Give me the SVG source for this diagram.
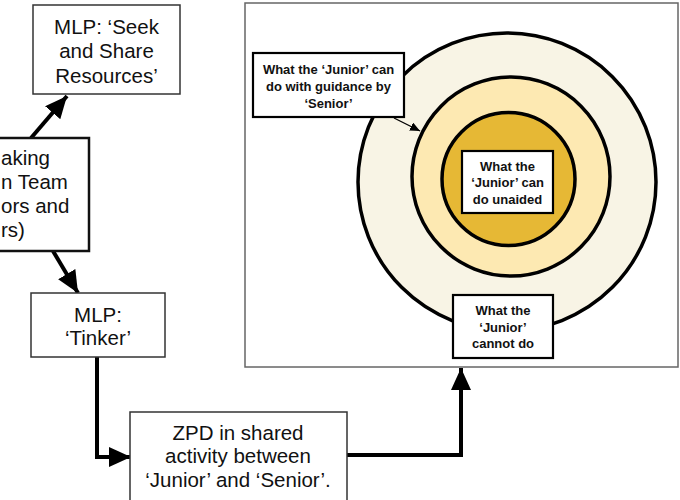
<svg xmlns="http://www.w3.org/2000/svg" width="680" height="500" viewBox="0 0 680 500">
<defs>
<style>
.box{fill:#fff;stroke:#333;stroke-width:1.5}
.lbl{fill:#fff;stroke:#000;stroke-width:2.2}
.t{font-family:"Liberation Sans",Arial,sans-serif;font-size:20.5px;fill:#111;text-anchor:middle}
.b{font-family:"Liberation Sans",Arial,sans-serif;font-size:13px;font-weight:bold;fill:#111;text-anchor:middle}
.c{fill:none;stroke:#000;stroke-width:4;stroke-linejoin:miter}
.ring{stroke:#000;stroke-width:3.5}
</style>
<marker id="ah" markerUnits="userSpaceOnUse" markerWidth="24" markerHeight="22" refX="22" refY="10" orient="auto">
<path d="M0,0 L22,10 L0,20 Z" fill="#000"/>
</marker>
<marker id="sh" markerUnits="userSpaceOnUse" markerWidth="12" markerHeight="10" refX="10" refY="4.5" orient="auto">
<path d="M0,0 L10,4.5 L0,9 Z" fill="#000"/>
</marker>
</defs>

<g id="zpd-panel">
<rect x="245" y="3" width="433" height="364" fill="#fff" stroke="#666" stroke-width="1.5"/>
<ellipse class="ring" cx="507" cy="182" rx="149" ry="149" fill="#f8f4e5"/>
<ellipse class="ring" cx="511" cy="176.5" rx="99" ry="99.5" fill="#fde9b2"/>
<ellipse class="ring" cx="508.5" cy="179" rx="66.5" ry="66.5" fill="#e6b835"/>
</g>

<g id="connectors">
<line class="c" x1="31" y1="138" x2="67" y2="96" marker-end="url(#ah)"/>
<line class="c" x1="53" y1="251" x2="78" y2="293" marker-end="url(#ah)"/>
<polyline class="c" points="97,357 97,457 131,457" marker-end="url(#ah)"/>
<polyline class="c" points="347,455 461,455 461,368" marker-end="url(#ah)"/>
<line x1="394" y1="118" x2="420" y2="131" stroke="#000" stroke-width="1.3" marker-end="url(#sh)"/>
</g>

<g id="mlp-seek">
<rect class="box" x="33" y="5" width="147" height="89"/>
<text class="t" x="106.5" y="34">MLP: ‘Seek</text>
<text class="t" x="106.5" y="58">and Share</text>
<text class="t" x="106.5" y="83">Resources’</text>
</g>

<g id="decision">
<rect x="-40" y="138" width="129" height="113" fill="#fff" stroke="#111" stroke-width="2.5"/>
<text class="t" x="1" y="165" style="text-anchor:start">aking</text>
<text class="t" x="1" y="189" style="text-anchor:start">n Team</text>
<text class="t" x="1" y="213" style="text-anchor:start">ors and</text>
<text class="t" x="1" y="237" style="text-anchor:start">rs)</text>
</g>

<g id="mlp-tinker">
<rect class="box" x="31" y="293" width="134" height="64"/>
<text class="t" x="98" y="322">MLP:</text>
<text class="t" x="98" y="345">‘Tinker’</text>
</g>

<g id="zpd-activity">
<rect class="box" x="130" y="412" width="217" height="92"/>
<text class="t" x="238" y="440">ZPD in shared</text>
<text class="t" x="238" y="463">activity between</text>
<text class="t" x="238" y="487">‘Junior’ and ‘Senior’.</text>
</g>

<g id="label-guidance">
<rect class="lbl" x="253" y="53" width="151" height="64"/>
<text class="b" x="328.5" y="74">What the ‘Junior’ can</text>
<text class="b" x="328.5" y="91">do with guidance by</text>
<text class="b" x="328.5" y="108">‘Senior’</text>
</g>

<g id="label-unaided">
<rect class="lbl" x="462" y="151" width="91" height="62"/>
<text class="b" x="507.5" y="171">What the</text>
<text class="b" x="507.5" y="187">‘Junior’ can</text>
<text class="b" x="507.5" y="204">do unaided</text>
</g>

<g id="label-cannot">
<rect class="lbl" x="453" y="295" width="100" height="63"/>
<text class="b" x="503" y="315">What the</text>
<text class="b" x="503" y="332">‘Junior’</text>
<text class="b" x="503" y="348">cannot do</text>
</g>
</svg>
